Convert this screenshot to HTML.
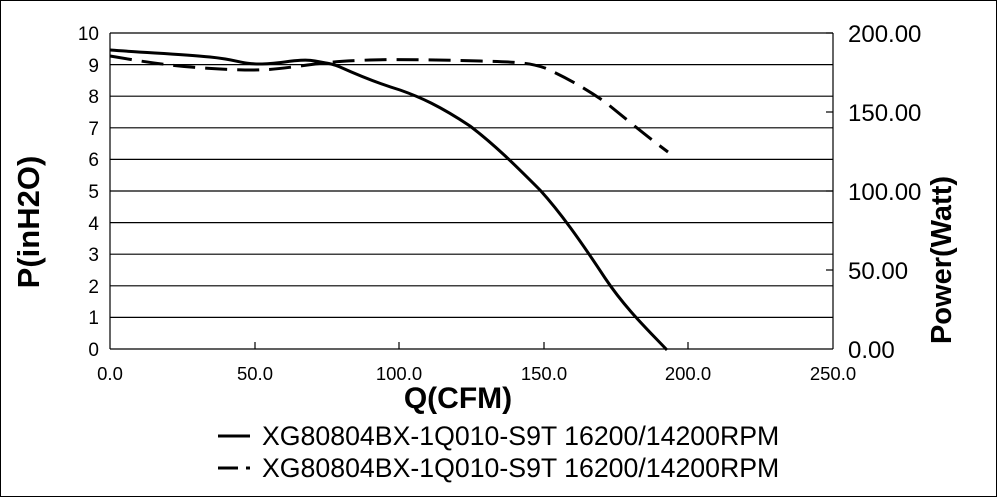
<!DOCTYPE html>
<html><head><style>body{margin:0;background:#fff}</style></head><body>
<svg width="1000" height="497" xmlns="http://www.w3.org/2000/svg" font-family="Liberation Sans, sans-serif">
<rect x="0.5" y="0.5" width="996" height="496" fill="#fff" stroke="#000"/>
<g stroke="#000" stroke-width="1.2">
<line x1="110" y1="33" x2="833" y2="33"/>
<line x1="110" y1="64.6" x2="833" y2="64.6"/>
<line x1="110" y1="96.2" x2="833" y2="96.2"/>
<line x1="110" y1="127.8" x2="833" y2="127.8"/>
<line x1="110" y1="159.4" x2="833" y2="159.4"/>
<line x1="110" y1="191" x2="833" y2="191"/>
<line x1="110" y1="222.6" x2="833" y2="222.6"/>
<line x1="110" y1="254.2" x2="833" y2="254.2"/>
<line x1="110" y1="285.8" x2="833" y2="285.8"/>
<line x1="110" y1="317.4" x2="833" y2="317.4"/>
<line x1="110" y1="349" x2="833" y2="349"/>
<line x1="110" y1="33" x2="110" y2="349"/>
<line x1="833" y1="33" x2="833" y2="349"/>
<line x1="255" y1="349" x2="255" y2="342"/>
<line x1="399" y1="349" x2="399" y2="342"/>
<line x1="544" y1="349" x2="544" y2="342"/>
<line x1="688" y1="349" x2="688" y2="342"/>
<line x1="826" y1="33" x2="833" y2="33"/>
<line x1="826" y1="112" x2="833" y2="112"/>
<line x1="826" y1="191" x2="833" y2="191"/>
<line x1="826" y1="270" x2="833" y2="270"/>
</g>
<g font-size="19" text-anchor="end">
<text x="99" y="40">10</text><text x="99" y="72">9</text><text x="99" y="103">8</text><text x="99" y="135">7</text><text x="99" y="166">6</text><text x="99" y="198">5</text><text x="99" y="230">4</text><text x="99" y="261">3</text><text x="99" y="293">2</text><text x="99" y="324">1</text><text x="99" y="356">0</text>
</g>
<g font-size="24">
<text x="848" y="42">200.00</text><text x="848" y="121">150.00</text><text x="848" y="200">100.00</text><text x="848" y="279">50.00</text><text x="848" y="358">0.00</text>
</g>
<g font-size="18.5" text-anchor="middle">
<text x="110" y="380">0.0</text><text x="255" y="380">50.0</text><text x="399" y="380">100.0</text><text x="544" y="380">150.0</text><text x="688" y="380">200.0</text><text x="833" y="380">250.0</text>
</g>
<text x="458" y="408" font-size="30" font-weight="bold" text-anchor="middle">Q(CFM)</text>
<text transform="translate(39,222) rotate(-90)" font-size="31" font-weight="bold" text-anchor="middle">P(inH2O)</text>
<text transform="translate(951,260) rotate(-90)" font-size="29" font-weight="bold" text-anchor="middle">Power(Watt)</text>
<path d="M110,50 C150,53 180,54 210,57 S240,64 260,64 S300,58 315,61 S330,63 340,67 C360,76 380,84 400,90 C420,97 440,106 470,126 C495,145 515,165 540,190 C560,212 580,240 605,278 C625,308 648,330 667,350" fill="none" stroke="#000" stroke-width="3"/>
<path d="M110,56 C150,63 180,67 220,69 S270,70 300,66 S340,61 370,60 C400,59 440,60 480,61 S530,63 545,68 C565,77 585,88 605,102 C625,118 645,135 668,152" fill="none" stroke="#000" stroke-width="3" stroke-dasharray="22,10"/>
<line x1="218" y1="436" x2="250" y2="436" stroke="#000" stroke-width="3"/>
<line x1="218" y1="468" x2="250" y2="468" stroke="#000" stroke-width="3" stroke-dasharray="20,8"/>
<g font-size="26.7"><text x="262" y="445">XG80804BX-1Q010-S9T 16200/14200RPM</text><text x="262" y="477">XG80804BX-1Q010-S9T 16200/14200RPM</text></g>
</svg>
</body></html>
